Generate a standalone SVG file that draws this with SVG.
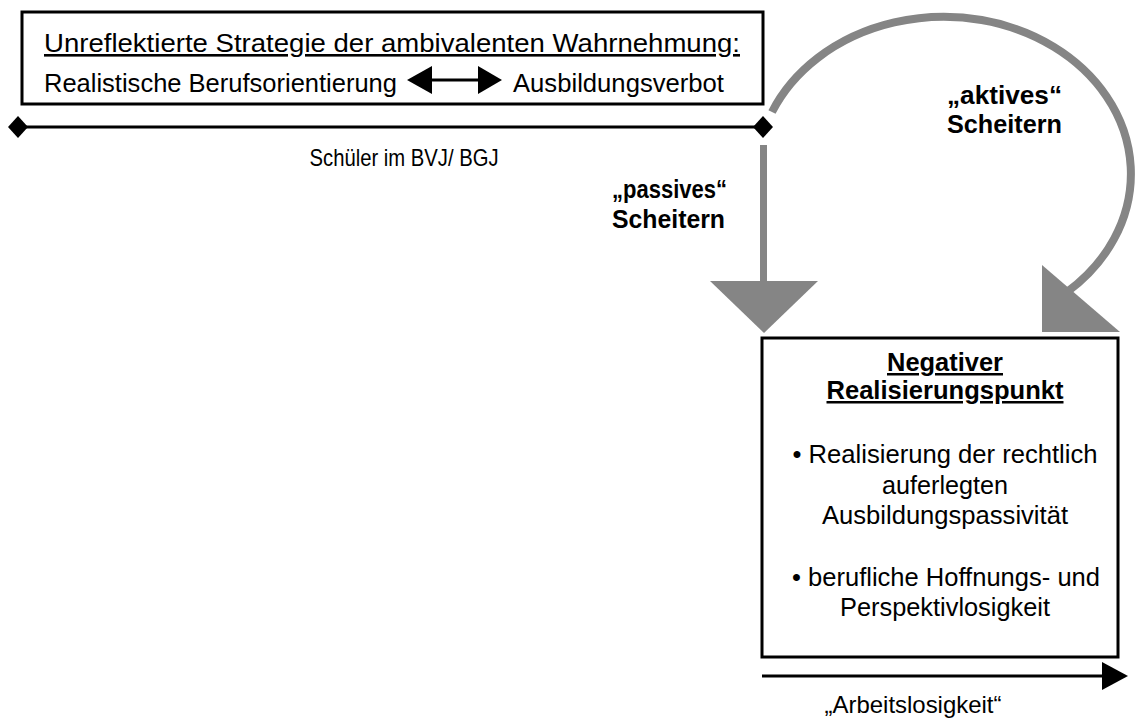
<svg xmlns="http://www.w3.org/2000/svg" width="1137" height="720" viewBox="0 0 1137 720">
<style>
.t{font-family:"Liberation Sans",Arial,sans-serif;font-size:25px;fill:#000}
.s{font-size:24px}
.l{font-size:26px}
.b{font-weight:bold}
.u{text-decoration:underline}
.box{fill:#fff;stroke:#000;stroke-width:3}
.gray{fill:#858585}
.gl{fill:none;stroke:#858585;stroke-width:8}
</style>
<rect width="1137" height="720" fill="#fff"/>
<g id="strategy">
<rect class="box" x="22" y="12" width="741" height="92"/>
<text class="t l u" x="392" y="52" text-anchor="middle" textLength="696" lengthAdjust="spacingAndGlyphs">Unreflektierte Strategie der ambivalenten Wahrnehmung:</text>
<text class="t l" x="44" y="92" textLength="353" lengthAdjust="spacingAndGlyphs">Realistische Berufsorientierung</text>
<line x1="425" y1="80" x2="484" y2="80" stroke="#000" stroke-width="3"/>
<polygon points="407,80 432,66 432,94"/>
<polygon points="502,80 478,66 478,94"/>
<text class="t l" x="513" y="92" textLength="211" lengthAdjust="spacingAndGlyphs">Ausbildungsverbot</text>
</g>
<g id="timeline">
<line x1="18" y1="127" x2="763" y2="127" stroke="#000" stroke-width="3"/>
<polygon points="8,127 18,116 28,127 18,138"/>
<polygon points="753,127 763,116 773,127 763,138"/>
<text class="t s" x="404" y="166" text-anchor="middle" textLength="189" lengthAdjust="spacingAndGlyphs">Schüler im BVJ/ BGJ</text>
</g>
<g id="connectors">
<rect class="gray" x="760" y="145" width="7" height="138"/>
<polygon class="gray" points="710,281 818,281 764,333"/>
<path class="gl" d="M772,112 A187,157 0 1 1 1067,292"/>
<polygon class="gray" points="1042,265 1042,332 1120,332"/>
</g>
<g id="labels">
<text class="t b" x="947" y="104" textLength="115" lengthAdjust="spacingAndGlyphs">„aktives“</text>
<text class="t b" x="947" y="133" textLength="115" lengthAdjust="spacingAndGlyphs">Scheitern</text>
<text class="t b" x="612" y="198" textLength="115" lengthAdjust="spacingAndGlyphs">„passives“</text>
<text class="t b" x="612" y="228" textLength="113" lengthAdjust="spacingAndGlyphs">Scheitern</text>
</g>
<g id="negative">
<rect class="box" x="762" y="338" width="356" height="319"/>
<text class="t b u" x="945" y="371" text-anchor="middle" textLength="116" lengthAdjust="spacingAndGlyphs">Negativer</text>
<text class="t b u" x="945" y="399" text-anchor="middle" textLength="237" lengthAdjust="spacingAndGlyphs">Realisierungspunkt</text>
<text class="t" x="945" y="463" text-anchor="middle" textLength="305" lengthAdjust="spacingAndGlyphs">• Realisierung der rechtlich</text>
<text class="t" x="945" y="494" text-anchor="middle" textLength="126" lengthAdjust="spacingAndGlyphs">auferlegten</text>
<text class="t" x="945" y="524" text-anchor="middle" textLength="246" lengthAdjust="spacingAndGlyphs">Ausbildungspassivität</text>
<text class="t" x="946" y="586" text-anchor="middle" textLength="308" lengthAdjust="spacingAndGlyphs">• berufliche Hoffnungs- und</text>
<text class="t" x="945" y="616" text-anchor="middle" textLength="210" lengthAdjust="spacingAndGlyphs">Perspektivlosigkeit</text>
</g>
<g id="unemployment">
<line x1="762" y1="676" x2="1104" y2="676" stroke="#000" stroke-width="3"/>
<polygon points="1102,662 1128,676 1102,690"/>
<text class="t s" x="913" y="713" text-anchor="middle" textLength="177" lengthAdjust="spacingAndGlyphs">„Arbeitslosigkeit“</text>
</g>
</svg>
